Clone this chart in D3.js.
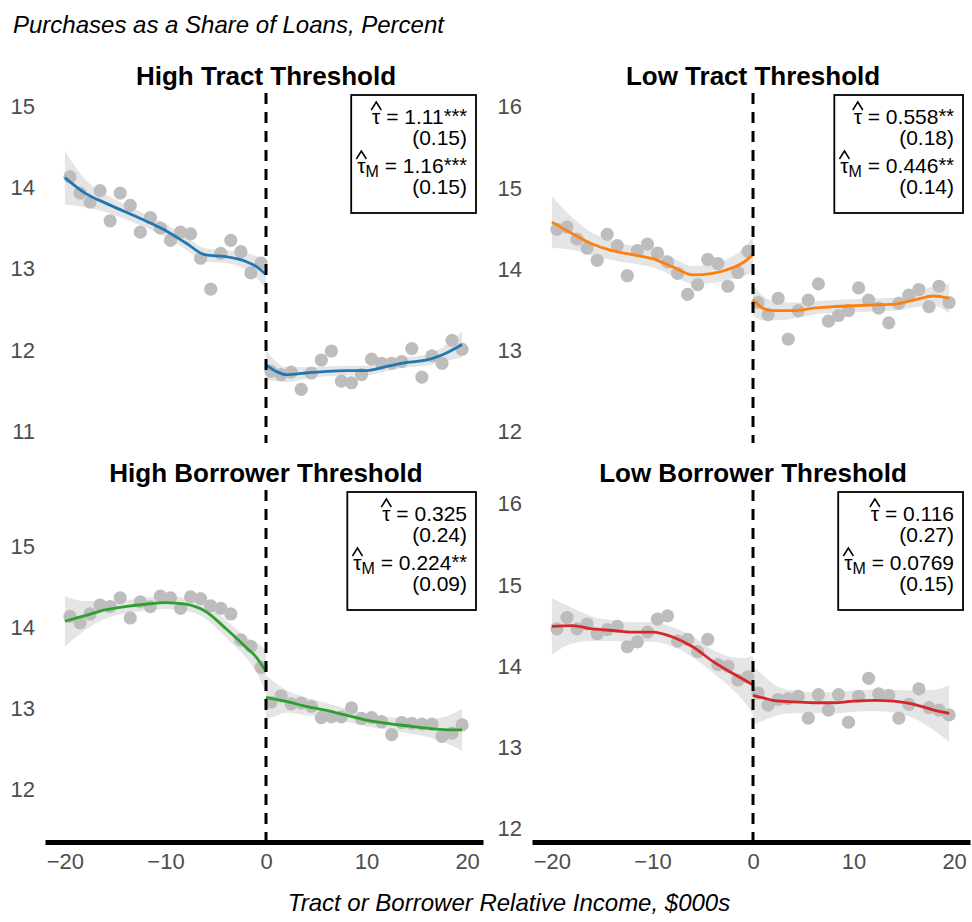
<!DOCTYPE html>
<html>
<head>
<meta charset="utf-8">
<script src="https://cdn.jsdelivr.net/npm/d3@7"></script>
<style>
  body { margin: 0; background: #fff; }
  text { font-family: "Liberation Sans", Arial, Helvetica, sans-serif; }
</style>
</head>
<body>
<svg id="chart" width="972" height="922"></svg>
<script>
// bin midpoints ($000s from threshold)
const binXLeft  = [-19.5,-18.5,-17.5,-16.5,-15.5,-14.5,-13.5,-12.5,-11.5,-10.5,-9.5,-8.5,-7.5,-6.5,-5.5,-4.5,-3.5,-2.5,-1.5,-0.5];
const binXRight = [0.5,1.5,2.5,3.5,4.5,5.5,6.5,7.5,8.5,9.5,10.5,11.5,12.5,13.5,14.5,15.5,16.5,17.5,18.5,19.5];
const fitXLeft  = [-20,-18,-16,-14,-12,-10,-8,-6,-4,-2,-1,0];
const fitXRight = [0,1,2,4,6,8,10,12,14,16,18,19.5];
const xTicks = [-20,-10,0,10,20];

// High Tract Threshold
const hiTractPtsL = [14.11,13.91,13.80,13.94,13.57,13.91,13.76,13.43,13.61,13.48,13.33,13.43,13.41,13.11,12.73,13.17,13.33,13.19,12.93,13.05];
const hiTractPtsR = [11.72,11.68,11.71,11.50,11.70,11.86,11.97,11.60,11.58,11.68,11.87,11.82,11.82,11.84,12.00,11.65,11.91,11.82,12.10,11.99];
const hiTractFitL = [14.10,13.91,13.79,13.68,13.57,13.45,13.30,13.15,13.13,13.07,13.01,12.91];
const hiTractFitR = [11.80,11.72,11.68,11.70,11.72,11.73,11.73,11.78,11.83,11.86,11.95,12.05];
const hiTractSeL  = [.33,.17,.11,.09,.08,.08,.08,.08,.08,.10,.13,.18];
const hiTractSeR  = [.18,.12,.09,.07,.06,.06,.06,.06,.06,.07,.10,.16];
const hiTractEst  = ['1.11','***','(0.15)','1.16','***','(0.15)'];

// Low Tract Threshold
const loTractPtsL = [14.47,14.50,14.35,14.24,14.09,14.41,14.27,13.90,14.21,14.29,14.18,14.07,13.93,13.67,13.79,14.10,14.05,13.77,13.94,14.20];
const loTractPtsR = [13.57,13.42,13.62,13.12,13.47,13.60,13.80,13.34,13.41,13.47,13.75,13.60,13.50,13.32,13.56,13.66,13.73,13.52,13.77,13.57];
const loTractFitL = [14.56,14.42,14.29,14.21,14.16,14.11,14.01,13.91,13.93,14.00,14.06,14.16];
const loTractFitR = [13.60,13.50,13.47,13.47,13.50,13.52,13.53,13.54,13.55,13.60,13.65,13.62];
const loTractSeL  = [.32,.20,.14,.12,.11,.11,.11,.11,.12,.14,.17,.21];
const loTractSeR  = [.19,.15,.12,.10,.08,.08,.08,.08,.08,.09,.12,.18];
const loTractEst  = ['0.558','**','(0.18)','0.446','**','(0.14)'];

// High Borrower Threshold
const hiBorrPtsL = [14.11,14.03,14.14,14.25,14.23,14.34,14.09,14.29,14.23,14.36,14.34,14.21,14.35,14.33,14.24,14.21,14.14,13.82,13.74,13.48];
const hiBorrPtsR = [13.05,13.13,13.03,13.04,13.00,12.86,12.87,12.87,12.98,12.85,12.86,12.81,12.65,12.80,12.79,12.78,12.78,12.63,12.67,12.77];
const hiBorrFitL = [14.05,14.12,14.19,14.23,14.26,14.28,14.26,14.17,13.96,13.73,13.61,13.43];
const hiBorrFitR = [13.11,13.085,13.06,13.00,12.95,12.89,12.83,12.79,12.76,12.73,12.71,12.71];
const hiBorrSeL  = [.31,.18,.11,.08,.08,.08,.08,.09,.11,.13,.18,.27];
const hiBorrSeR  = [.27,.20,.14,.11,.09,.08,.08,.08,.09,.11,.17,.26];
const hiBorrEst  = ['0.325','','(0.24)','0.224','**','(0.09)'];

// Low Borrower Threshold
const loBorrPtsL = [14.44,14.58,14.44,14.50,14.38,14.43,14.47,14.22,14.28,14.40,14.56,14.60,14.29,14.31,14.16,14.31,14.00,13.98,13.81,13.85];
const loBorrPtsR = [13.65,13.50,13.57,13.58,13.61,13.34,13.63,13.44,13.63,13.29,13.61,13.83,13.64,13.62,13.34,13.51,13.70,13.47,13.44,13.38];
const loBorrFitL = [14.47,14.48,14.44,14.42,14.40,14.40,14.34,14.22,14.04,13.89,13.82,13.75];
const loBorrFitR = [13.62,13.59,13.56,13.54,13.53,13.53,13.55,13.56,13.55,13.51,13.44,13.40];
const loBorrSeL  = [.35,.22,.15,.13,.12,.12,.12,.13,.14,.20,.26,.36];
const loBorrSeR  = [.36,.28,.20,.14,.13,.13,.13,.13,.14,.17,.25,.35];
const loBorrEst  = ['0.116','','(0.27)','0.0769','','(0.15)'];

const panels = [
  {title:'High Tract Threshold', color:'#1f77b4', col:0, row:0, yDomain:[10.84,15.14], yTicks:[11,12,13,14,15],
   ptsL:hiTractPtsL, ptsR:hiTractPtsR, fitL:hiTractFitL, fitR:hiTractFitR, seL:hiTractSeL, seR:hiTractSeR, est:hiTractEst},
  {title:'Low Tract Threshold', color:'#ff7f0e', col:1, row:0, yDomain:[11.84,16.15], yTicks:[12,13,14,15,16],
   ptsL:loTractPtsL, ptsR:loTractPtsR, fitL:loTractFitL, fitR:loTractFitR, seL:loTractSeL, seR:loTractSeR, est:loTractEst},
  {title:'High Borrower Threshold', color:'#2ca02c', col:0, row:1, yDomain:[11.35,15.67], yTicks:[12,13,14,15],
   ptsL:hiBorrPtsL, ptsR:hiBorrPtsR, fitL:hiBorrFitL, fitR:hiBorrFitR, seL:hiBorrSeL, seR:hiBorrSeR, est:hiBorrEst},
  {title:'Low Borrower Threshold', color:'#d62728', col:1, row:1, yDomain:[11.84,16.15], yTicks:[12,13,14,15,16],
   ptsL:loBorrPtsL, ptsR:loBorrPtsR, fitL:loBorrFitL, fitR:loBorrFitR, seL:loBorrSeL, seR:loBorrSeR, est:loBorrEst}
];

const svg = d3.select('#chart');
svg.append('rect').attr('width',972).attr('height',922).attr('fill','#fff');

const colX = [[45,483],[532,970]];
const rowY = [[93,443],[490,840]];
const xDomain = [-21.98, 21.58];

// overall labels
svg.append('text').attr('x',13).attr('y',33)
  .style('font-size','24px').style('font-style','italic').text('Purchases as a Share of Loans, Percent');
svg.append('text').attr('x',509).attr('y',911).attr('text-anchor','middle')
  .style('font-size','24px').style('font-style','italic').text('Tract or Borrower Relative Income, $000s');

panels.forEach(p => {
  const [x0,x1] = colX[p.col];
  const [y0,y1] = rowY[p.row];
  const x = d3.scaleLinear().domain(xDomain).range([x0,x1]);
  const y = d3.scaleLinear().domain(p.yDomain).range([y1,y0]);
  const g = svg.append('g');

  // title
  g.append('text').attr('x', x(0)).attr('y', y0 - 8).attr('text-anchor','middle')
    .style('font-size','26px').style('font-weight','700').text(p.title);

  // y axis (labels only)
  const ya = g.append('g').attr('transform', `translate(${x0},0)`)
    .call(d3.axisLeft(y).tickValues(p.yTicks).tickSize(0).tickPadding(10).tickFormat(d3.format('d')));
  ya.select('.domain').remove();
  ya.selectAll('text').attr('dy','0.4em').style('font-size','22px').style('fill','#4d4d4d')
    .style('font-family','"Liberation Sans", Arial, sans-serif');

  // x axis on bottom row
  if (p.row === 1) {
    const xa = g.append('g').attr('transform', `translate(0,${y1 + 2})`)
      .call(d3.axisBottom(x).tickValues(xTicks).tickSize(0).tickSizeOuter(0).tickPadding(11));
    xa.select('.domain').attr('stroke','#000').attr('stroke-width',5);
    xa.selectAll('text').style('font-size','22px').style('fill','#4d4d4d')
      .style('font-family','"Liberation Sans", Arial, sans-serif');
  }

  const sides = [
    {fx: fitXLeft,  fit: p.fitL, se: p.seL, bx: binXLeft,  pts: p.ptsL},
    {fx: fitXRight, fit: p.fitR, se: p.seR, bx: binXRight, pts: p.ptsR}
  ];

  const area = d3.area().curve(d3.curveMonotoneX)
    .x(d => x(d.x)).y0(d => y(d.v - d.se)).y1(d => y(d.v + d.se));
  const line = d3.line().curve(d3.curveMonotoneX).x(d => x(d.x)).y(d => y(d.v));

  sides.forEach(s => {
    const fitData = s.fx.map((xx,i) => ({x: xx, v: s.fit[i], se: s.se[i]}));
    g.append('path').datum(fitData).attr('d', area).attr('fill','#e5e5e5');
  });
  sides.forEach(s => {
    g.selectAll(null).data(s.bx.map((xx,i) => ({x: xx, v: s.pts[i]}))).join('circle')
      .attr('cx', d => x(d.x)).attr('cy', d => y(d.v)).attr('r', 6.6).attr('fill','#bdbdbd');
  });
  sides.forEach(s => {
    const fitData = s.fx.map((xx,i) => ({x: xx, v: s.fit[i]}));
    g.append('path').datum(fitData).attr('d', line).attr('fill','none')
      .attr('stroke', p.color).attr('stroke-width', 2.8);
  });

  // cutoff
  g.append('line').attr('x1', x(0)).attr('x2', x(0)).attr('y1', y0).attr('y2', y1)
    .attr('stroke','#000').attr('stroke-width',3).attr('stroke-dasharray','11,8');

  // estimate box
  const boxRight = x1 - 7, boxTop = y0 + 2;
  const box = g.append('rect');
  const tx = boxRight - 9;
  const lines = [
    {sym:true, sub:'', val:p.est[0], stars:p.est[1], dy:29},
    {sym:false, val:p.est[2], dy:50},
    {sym:true, sub:'M', val:p.est[3], stars:p.est[4], dy:78},
    {sym:false, val:p.est[5], dy:99}
  ];
  let minX = boxRight;
  lines.forEach(l => {
    const by = boxTop + l.dy;
    const t = g.append('text').attr('x', tx).attr('y', by).attr('text-anchor','end').style('font-size','21px');
    if (l.sym) {
      t.append('tspan').text('\u03C4');
      if (l.sub) t.append('tspan').attr('dy', 4).style('font-size','16px').text(l.sub);
      t.append('tspan').attr('dy', l.sub ? -4 : 0).text(' = ' + l.val);
      if (l.stars) t.append('tspan').attr('dy', -1).style('font-size','20px').text(l.stars);
      const n = t.node();
      const a = n.getStartPositionOfChar(0), b = n.getEndPositionOfChar(0);
      const cx = (a.x + b.x) / 2;
      g.append('path').attr('d', `M${cx-5},${by-14}L${cx},${by-22}L${cx+5},${by-14}`)
        .attr('fill','none').attr('stroke','#000').attr('stroke-width',1.5);
    } else {
      t.text(l.val);
    }
    minX = Math.min(minX, t.node().getBBox().x);
  });
  box.attr('x', minX - 6).attr('y', boxTop).attr('width', boxRight - minX + 6).attr('height', 118)
    .attr('fill','#fff').attr('stroke','#000').attr('stroke-width',1.8);
});
</script>
</body>
</html>
